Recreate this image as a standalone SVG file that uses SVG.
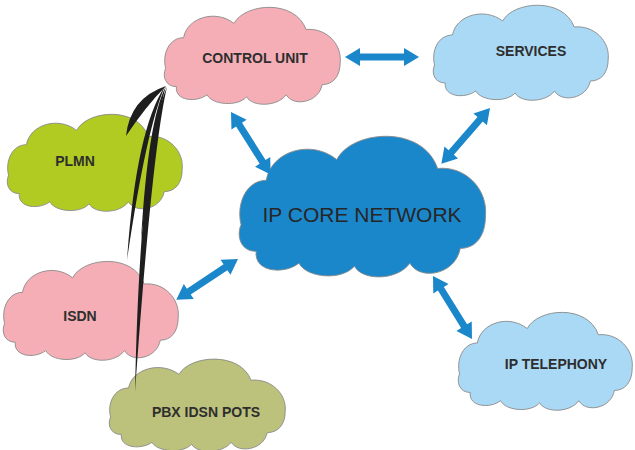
<svg xmlns="http://www.w3.org/2000/svg" xmlns:xlink="http://www.w3.org/1999/xlink" width="635" height="450" viewBox="0 0 635 450">
<style>
.cloud{stroke:#8a8a8a;stroke-width:0.9}
.lbl{font-family:"Liberation Sans",Arial,sans-serif;font-weight:bold;font-size:14px;fill:#2e2e2e;text-anchor:middle}
.big{font-family:"Liberation Sans",Arial,sans-serif;font-size:21px;fill:#262626;text-anchor:middle}
.arrow{fill:#1b87cb}
.stroke{fill:#1e1e1e}
</style>
<defs>
<path id="cloud" vector-effect="non-scaling-stroke" d="M4,64 C0,50 8,34 24,34 C28,14 60,6 80,20 C92,0 148,-4 160,26 C182,24 200,40 198,58 C198,72 190,80 178,80 C174,98 146,102 138,90 C128,102 100,102 94,92 C84,102 56,100 50,90 C38,98 14,96 16,82 C4,82 0,72 4,64 Z"/>
<path id="dbl" d="M0,0 L15,-9 L15,-3.5 L59,-3.5 L59,-9 L74,0 L59,9 L59,3.5 L15,3.5 L15,9 Z"/>
</defs>
<rect width="635" height="450" fill="#ffffff"/>
<g id="control-unit">
<use xlink:href="#cloud" class="cloud" fill="#f5aeb6" transform="translate(162,3) scale(0.9,1.02)"/>
<text class="lbl" x="255" y="63">CONTROL UNIT</text>
</g>
<g id="services">
<use xlink:href="#cloud" class="cloud" fill="#aad9f5" transform="translate(431,1) scale(0.895,1.0)"/>
<text class="lbl" x="531" y="56">SERVICES</text>
</g>
<g id="plmn">
<use xlink:href="#cloud" class="cloud" fill="#b1cb22" transform="translate(5,110) scale(0.895,1.02)"/>
<text class="lbl" x="75" y="166">PLMN</text>
</g>
<g id="isdn">
<use xlink:href="#cloud" class="cloud" fill="#f5aeb6" transform="translate(1,257) scale(0.895,1.04)"/>
<text class="lbl" x="80" y="321">ISDN</text>
</g>
<g id="ip-core-network">
<use xlink:href="#cloud" class="cloud" fill="#1b87cb" transform="translate(236,130) scale(1.26,1.48)"/>
<text class="big" x="362" y="222">IP CORE NETWORK</text>
</g>
<g id="pbx-idsn-pots">
<use xlink:href="#cloud" class="cloud" fill="#bcc17b" transform="translate(107,355) scale(0.9,0.97)"/>
<text class="lbl" x="206" y="417">PBX IDSN POTS</text>
</g>
<g id="ip-telephony">
<use xlink:href="#cloud" class="cloud" fill="#aad9f5" transform="translate(456,308) scale(0.89,1.03)"/>
<text class="lbl" x="556" y="369">IP TELEPHONY</text>
</g>
<g id="connectors">
<path class="stroke" d="M166,86 Q130,98 126,136 Q146,106 166,86 Z"/>
<path class="stroke" d="M165,86 Q136,130 127,260 Q146,130 165,86 Z"/>
<path class="stroke" d="M167,87 Q140,150 135,392 Q152,150 167,87 Z"/>
<path class="stroke" d="M166,86 Q148,120 141,240 Q156,120 166,86 Z"/>
<use xlink:href="#dbl" class="arrow" transform="translate(345,57)"/>
<use xlink:href="#dbl" class="arrow" transform="translate(231,112) rotate(57.6)"/>
<use xlink:href="#dbl" class="arrow" transform="translate(490,108) rotate(131.1)"/>
<use xlink:href="#dbl" class="arrow" transform="translate(238,259) rotate(146.5)"/>
<use xlink:href="#dbl" class="arrow" transform="translate(433,276) rotate(58.2)"/>
</g>
</svg>
